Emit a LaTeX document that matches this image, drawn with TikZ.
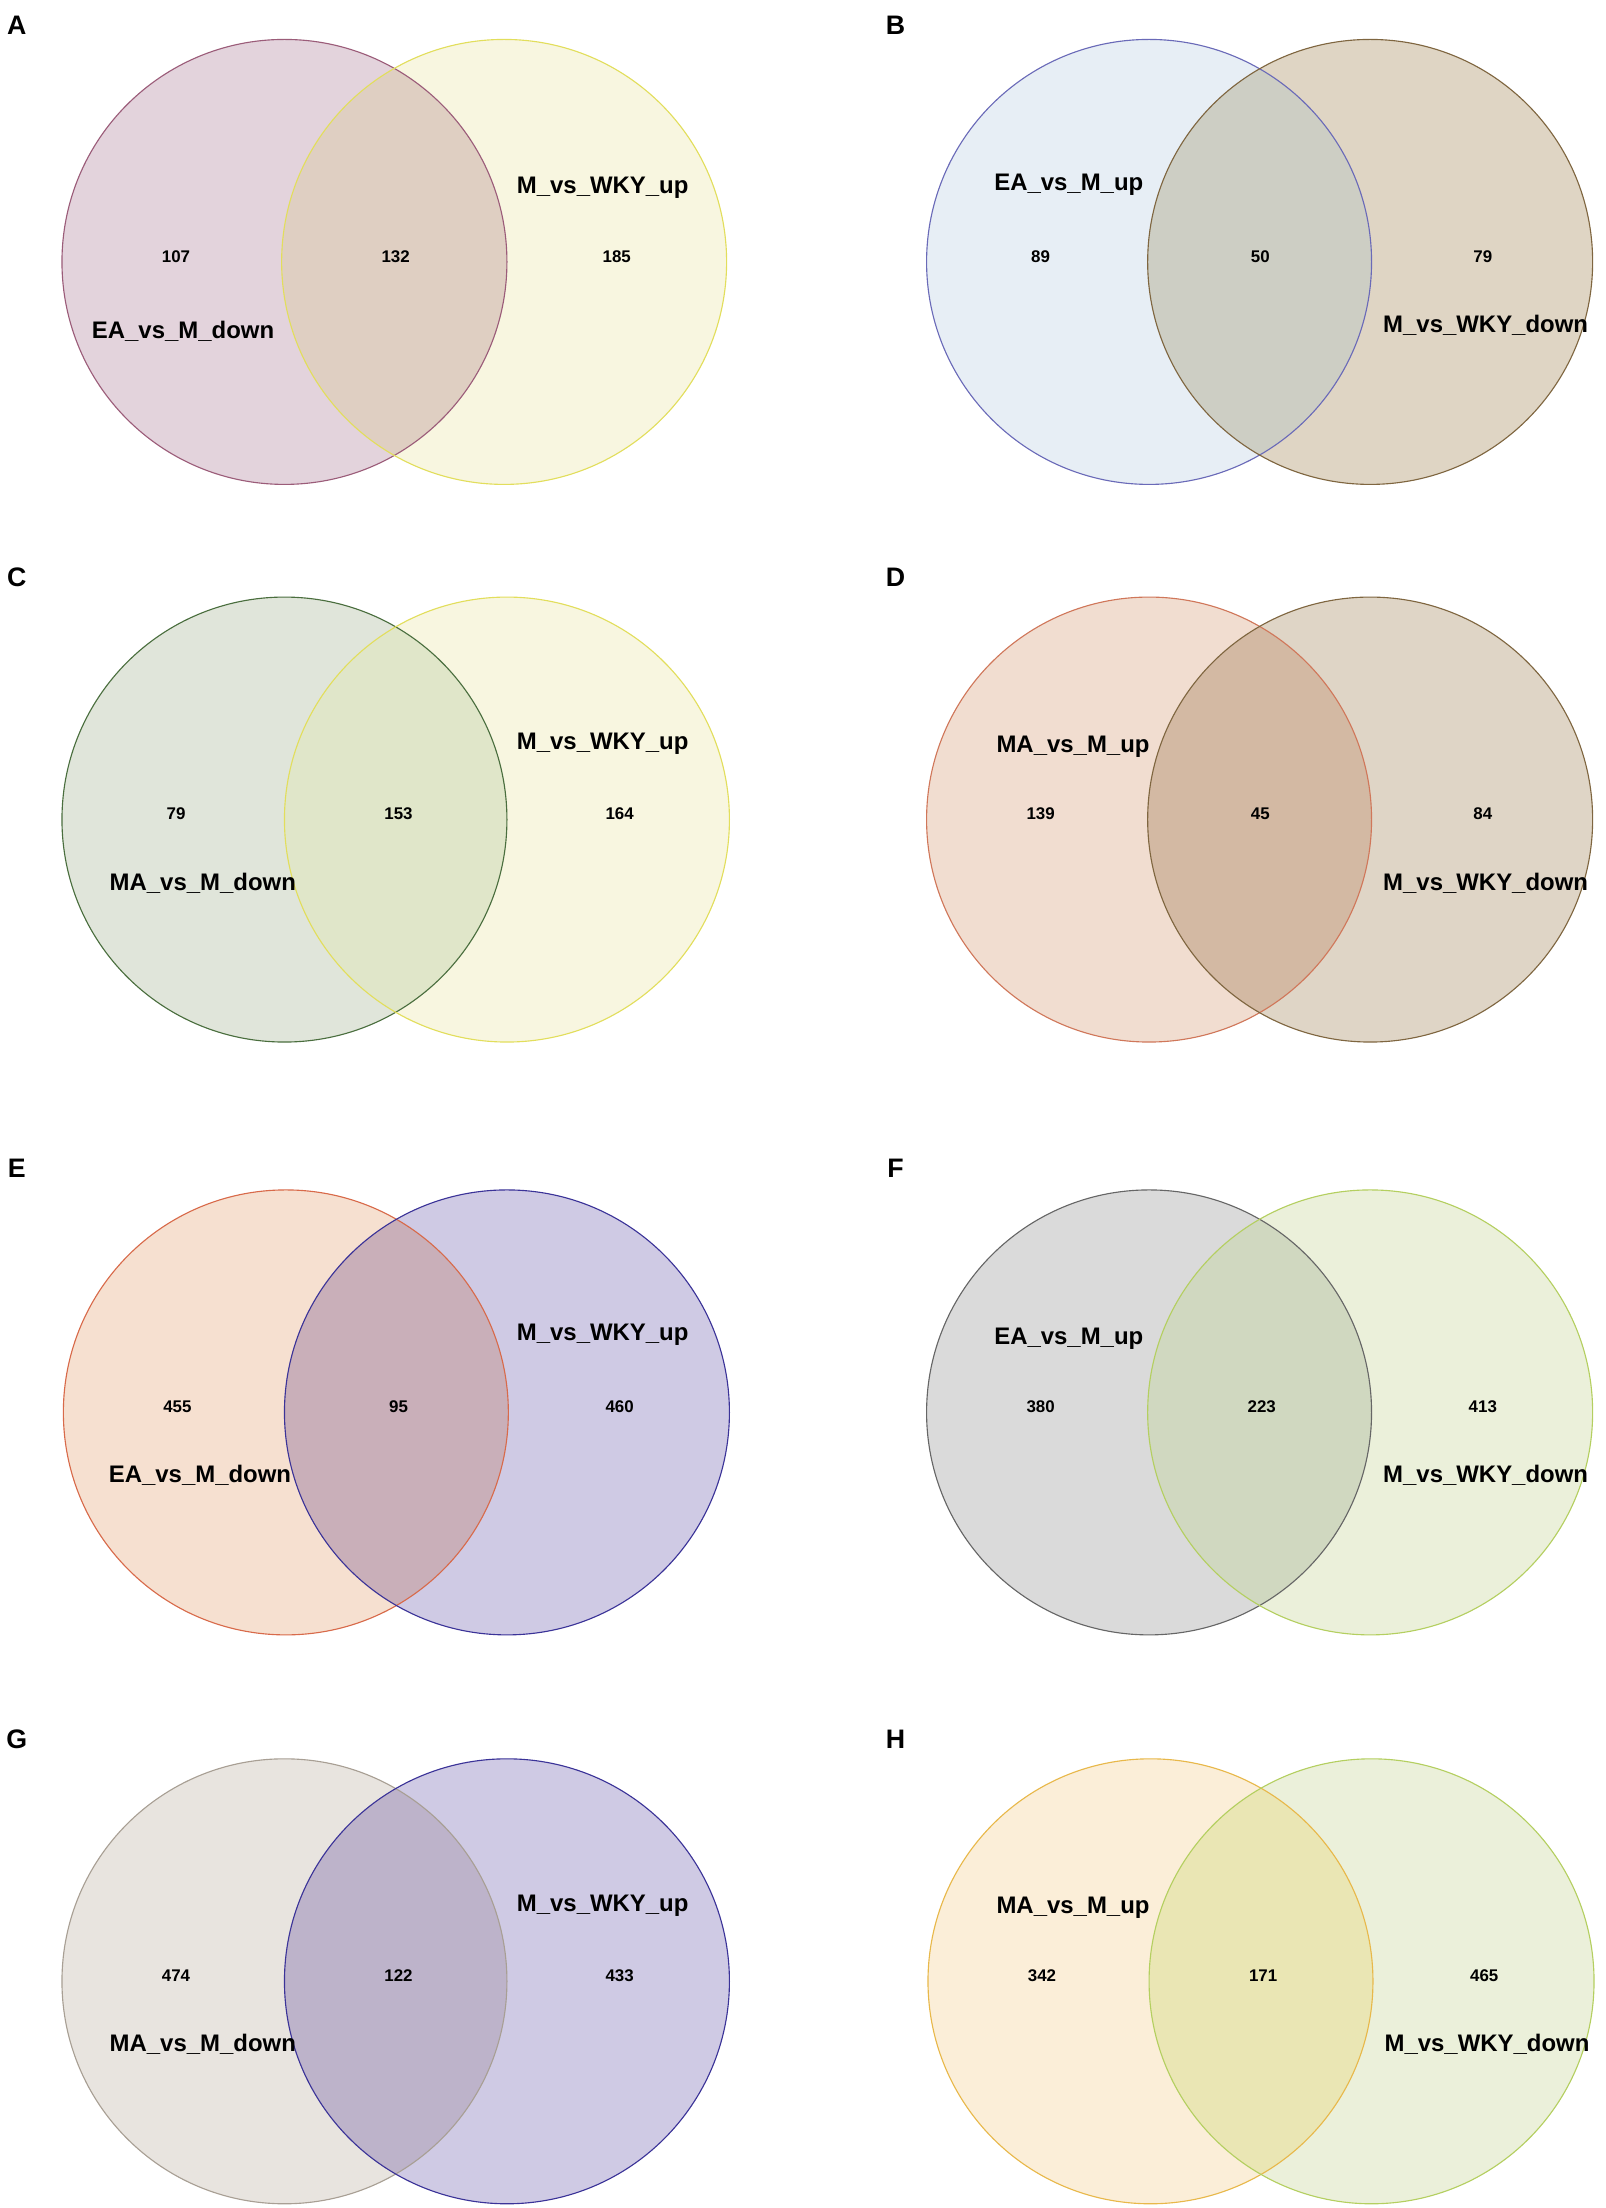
\documentclass[tikz,border=0pt]{standalone}
\usepackage{fontspec}
\setmainfont{Liberation Sans}
\begin{document}
\begin{tikzpicture}[x=1pt,y=-1pt,
  lab/.style={font=\bfseries\fontsize{17}{19}\selectfont},
  num/.style={font=\bfseries\fontsize{12}{14}\selectfont},
  pl/.style={font=\bfseries\fontsize{19}{21}\selectfont}]
\useasboundingbox (0,0) rectangle (1140,1568);
\newcommand{\venn}[9]{%
  % #1 cx1,#2 cx2,#3 cy,#4 Lfill,#5 Rfill,#6 Ofill,#7 Ledge,#8 Redge, #9 name
  \fill[#4] (#1,#3) circle (158);
  \fill[#5] (#2,#3) circle (158);
  \begin{scope}\clip (#1,#3) circle (158); \fill[#6] (#2,#3) circle (158);\end{scope}
  \draw[#7,line width=0.8pt] (#1,#3) circle (158);
  \draw[#8,line width=0.8pt] (#2,#3) circle (158);
  \coordinate (#9c) at (#1,#3);}
\definecolor{aL}{HTML}{E3D3DC}\definecolor{aR}{HTML}{F8F6E0}\definecolor{aO}{HTML}{DFCFC2}\definecolor{aLe}{HTML}{9B5C79}\definecolor{aRe}{HTML}{E2DE5C}
\definecolor{bL}{HTML}{E7EEF5}\definecolor{bR}{HTML}{DFD5C4}\definecolor{bO}{HTML}{CDCEC4}\definecolor{bLe}{HTML}{6A6AB8}\definecolor{bRe}{HTML}{7F6640}
\definecolor{cL}{HTML}{E0E5DA}\definecolor{cR}{HTML}{F9F8E4}\definecolor{cO}{HTML}{E0E6C9}\definecolor{cLe}{HTML}{4A6E3E}
\definecolor{dL}{HTML}{F1DDD0}\definecolor{dR}{HTML}{DFD5C6}\definecolor{dO}{HTML}{D3B9A3}\definecolor{dLe}{HTML}{D0775A}
\definecolor{eL}{HTML}{F6E0D0}\definecolor{eR}{HTML}{CFCAE4}\definecolor{eO}{HTML}{C9AFB9}\definecolor{eLe}{HTML}{D86A4A}\definecolor{eRe}{HTML}{3B3398}
\definecolor{fL}{HTML}{DADADA}\definecolor{fR}{HTML}{EBF0DA}\definecolor{fO}{HTML}{D0D8C0}\definecolor{fLe}{HTML}{666666}\definecolor{fRe}{HTML}{B4CF60}
\definecolor{gL}{HTML}{E8E4DF}\definecolor{gO}{HTML}{BDB3CA}\definecolor{gLe}{HTML}{A89F94}
\definecolor{hL}{HTML}{FBEED8}\definecolor{hO}{HTML}{EAE6B4}\definecolor{hLe}{HTML}{E8B84A}

\venn{202}{358}{186}{aL}{aR}{aO}{aLe}{aRe}{A}
\venn{816}{973}{186}{bL}{bR}{bO}{bLe}{bRe}{B}
\venn{202}{360}{582}{cL}{aR}{cO}{cLe}{aRe}{C}
\venn{816}{973}{582}{dL}{dR}{dO}{dLe}{bRe}{D}
\venn{203}{360}{1003}{eL}{eR}{eO}{eLe}{eRe}{E}
\venn{816}{973}{1003}{fL}{fR}{fO}{fLe}{fRe}{F}
\venn{202}{360}{1407}{gL}{eR}{gO}{gLe}{eRe}{G}
\venn{817}{974}{1407}{hL}{fR}{hO}{hLe}{fRe}{H}

\node[pl] (pA) at (12,18) {A}; \node[pl] (pB) at (636,18) {B};
\node[pl] (pC) at (12,410) {C}; \node[pl] (pD) at (636,410) {D};
\node[pl] (pE) at (12,830) {E}; \node[pl] (pF) at (636,830) {F};
\node[pl] (pG) at (12,1235) {G}; \node[pl] (pH) at (636,1235) {H};

% A
\node[num] (a1) at (125,182) {107}; \node[num] (a2) at (281,182) {132}; \node[num] (a3) at (438,182) {185};
\node[lab] (al1) at (428,133) {M\_vs\_WKY\_up}; \node[lab] (al2) at (130,235) {EA\_vs\_M\_down};
% B
\node[num] (b1) at (739,182) {89}; \node[num] (b2) at (895,182) {50}; \node[num] (b3) at (1053,182) {79};
\node[lab] (bl1) at (759,131) {EA\_vs\_M\_up}; \node[lab] (bl2) at (1055,231) {M\_vs\_WKY\_down};
% C
\node[num] (c1) at (125,578) {79}; \node[num] (c2) at (283,578) {153}; \node[num] (c3) at (440,578) {164};
\node[lab] (cl1) at (428,528) {M\_vs\_WKY\_up}; \node[lab] (cl2) at (144,627) {MA\_vs\_M\_down};
% D
\node[num] (d1) at (739,578) {139}; \node[num] (d2) at (895,578) {45}; \node[num] (d3) at (1053,578) {84};
\node[lab] (dl1) at (762,530) {MA\_vs\_M\_up}; \node[lab] (dl2) at (1055,627) {M\_vs\_WKY\_down};
% E
\node[num] (e1) at (126,999) {455}; \node[num] (e2) at (283,999) {95}; \node[num] (e3) at (440,999) {460};
\node[lab] (el1) at (428,948) {M\_vs\_WKY\_up}; \node[lab] (el2) at (142,1048) {EA\_vs\_M\_down};
% F
\node[num] (f1) at (739,999) {380}; \node[num] (f2) at (896,999) {223}; \node[num] (f3) at (1053,999) {413};
\node[lab] (fl1) at (759,951) {EA\_vs\_M\_up}; \node[lab] (fl2) at (1055,1048) {M\_vs\_WKY\_down};
% G
\node[num] (g1) at (125,1403) {474}; \node[num] (g2) at (283,1403) {122}; \node[num] (g3) at (440,1403) {433};
\node[lab] (gl1) at (428,1353) {M\_vs\_WKY\_up}; \node[lab] (gl2) at (144,1452) {MA\_vs\_M\_down};
% H
\node[num] (h1) at (740,1403) {342}; \node[num] (h2) at (897,1403) {171}; \node[num] (h3) at (1054,1403) {465};
\node[lab] (hl1) at (762,1355) {MA\_vs\_M\_up}; \node[lab] (hl2) at (1056,1452) {M\_vs\_WKY\_down};
\end{tikzpicture}
\end{document}
